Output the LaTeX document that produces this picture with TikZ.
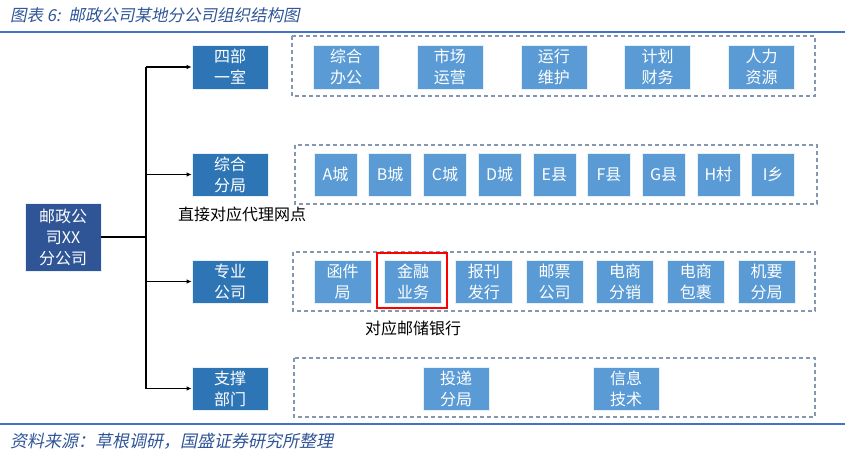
\documentclass[tikz,border=0pt]{standalone}
\usepackage{fontspec}
\setmainfont{Noto Sans CJK SC}
\newfontfamily\cjkit[FakeSlant=0.2]{Noto Sans CJK SC}
\usetikzlibrary{arrows.meta}
\definecolor{lvlblue}{HTML}{2E75B6}
\definecolor{itemblue}{HTML}{5B9BD5}
\definecolor{rootblue}{HTML}{2F5597}
\definecolor{dashcol}{RGB}{132,151,176}
\definecolor{rulecol}{HTML}{4472C4}
\definecolor{titlecol}{RGB}{47,85,151}
\begin{document}
\begin{tikzpicture}[x=1pt,y=-1pt,
  boxbase/.style={draw=white!85!itemblue, line width=0.6pt, text=white, align=center, inner sep=0pt, font=\fontsize{16}{21}\selectfont},
  rootbox/.style={boxbase, fill=rootblue, minimum width=76pt, minimum height=68pt},
  lvlbox/.style={boxbase, fill=lvlblue, minimum width=76pt, minimum height=43pt},
  itembox/.style={boxbase, fill=itemblue, minimum height=43pt},
  groupbox/.style={draw=dashcol, line width=1.3pt, dash pattern=on 4pt off 3pt},
  conn/.style={line width=1.5pt, black},
  arr/.style={conn, -{Latex[length=5pt,width=4.5pt]}},
  note/.style={font=\fontsize{16}{18}\selectfont, text=black, inner sep=0pt},
  capt/.style={font=\cjkit\fontsize{16.5}{18}\selectfont, text=titlecol, inner sep=0pt, anchor=west},
  rule/.style={draw=rulecol, line width=1.2pt}
]
\useasboundingbox (0,0) rectangle (858,471);

% title and rules
\node[capt] (title) at (10,15) {图表 6:\hspace{8pt}邮政公司某地分公司组织结构图};
\coordinate (r1a) at (0,32); \coordinate (r1b) at (845,32);
\draw[rule] (r1a) -- (r1b);
\coordinate (r2a) at (0,424); \coordinate (r2b) at (845,424);
\draw[rule] (r2a) -- (r2b);
\node[capt, font=\cjkit\fontsize{17}{18}\selectfont] (source) at (10,441) {资料来源：草根调研，国盛证券研究所整理};

% dashed group boxes
\draw[groupbox] (292,36) rectangle (815,96);
\draw[groupbox] (295,145) rectangle (817,204);
\draw[groupbox] (293,252) rectangle (815,311);
\draw[groupbox] (294,358) rectangle (815,417);

% root and level boxes
\node[rootbox] (root) at (63,237) {邮政公\\司XX\\分公司};
\node[lvlbox, minimum height=44pt] (l1) at (230,67) {四部\\一室};
\node[lvlbox] (l2) at (230,174.5) {综合\\分局};
\node[lvlbox] (l3) at (230,281.5) {专业\\公司};
\node[lvlbox] (l4) at (230,388.5) {支撑\\部门};

% row 1
\foreach \t [count=\i from 0] in {综合\\办公,市场\\运营,运行\\维护,计划\\财务,人力\\资源}{
  \node[itembox, minimum width=66pt, minimum height=44pt] (a\i) at ({346+\i*103.9},67) {\t};
}
% row 2
\foreach \t [count=\i from 0] in {A城,B城,C城,D城,E县,F县,G县,H村,I乡}{
  \node[itembox, minimum width=43pt] (b\i) at ({335.5+\i*54.7},174.5) {\t};
}
% row 3
\foreach \t [count=\i from 0] in {函件\\局,金融\\业务,报刊\\发行,邮票\\公司,电商\\分销,电商\\包裹,机要\\分局}{
  \node[itembox, minimum width=57pt] (c\i) at ({342.5+\i*70.67},281.5) {\t};
}
% row 4
\node[itembox, minimum width=66pt] (d0) at (456,388.5) {投递\\分局};
\node[itembox, minimum width=66pt] (d1) at (626,388.5) {信息\\技术};

% highlight
\draw[red, line width=1.6pt] (377,253) rectangle (447,308);

% notes
\node[note] (n1) at (242,214) {直接对应代理网点};
\node[note] (n2) at (413,328) {对应邮储银行};

% connectors
\coordinate (tt) at (146,67);
\coordinate (tb) at (146,388.5);
\draw[conn] (root.east) -- (root.east -| tt);
\draw[conn] (tt) -- (tb);
\draw[arr] (tt) -- (l1.west);
\draw[arr] (l2.west -| tt) -- (l2.west);
\draw[arr] (l3.west -| tt) -- (l3.west);
\draw[arr] (tb) -- (l4.west);
\end{tikzpicture}
\end{document}
